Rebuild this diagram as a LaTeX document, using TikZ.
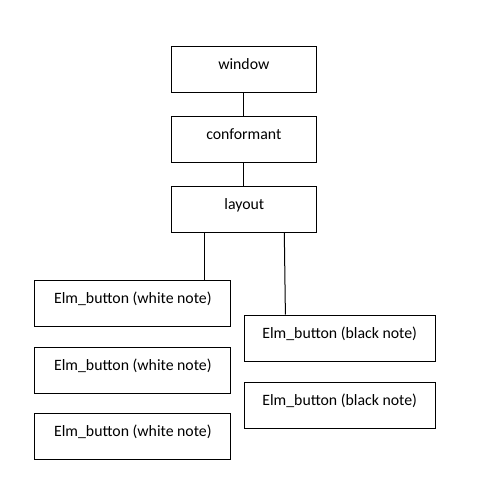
\documentclass[tikz,border=0pt]{standalone}
\usepackage{fontspec}
\setmainfont{Carlito}
\begin{document}
\begin{tikzpicture}[x=1pt,y=-1pt,
  box/.style={draw=black,line width=1pt,rectangle,inner sep=0pt,minimum height=46pt,
    text height=12pt,text depth=12pt,font=\fontsize{15.8pt}{18pt}\selectfont},
  topbox/.style={box,minimum width=145pt},
  wbox/.style={box,minimum width=196pt},
  bbox/.style={box,minimum width=191pt},
  conn/.style={draw=black,line width=1pt}]
\useasboundingbox[fill=white] (0,0) rectangle (500,500);
\node[topbox] (window) at (243.8,70) {window};
\node[topbox] (conformant) at (243.8,139.5) {conformant};
\node[topbox] (layout) at (244.3,209.5) {layout};
\node[wbox] (w1) at (132.9,303.2) {Elm\_button (white note)};
\node[wbox] (w2) at (132.9,370.3) {Elm\_button (white note)};
\node[wbox] (w3) at (132.9,436.5) {Elm\_button (white note)};
\node[bbox] (b1) at (339.7,338) {Elm\_button (black note)};
\node[bbox] (b2) at (339.7,405.5) {Elm\_button (black note)};
\draw[conn] (window.south) -- (conformant.north);
\draw[conn] (conformant.south) -- (conformant.south |- layout.north);
\coordinate (lw) at ([xshift=33.5pt]layout.south west);
\draw[conn] (lw) -- (lw |- w1.north);
\coordinate (lb) at ([xshift=113pt]layout.south west);
\coordinate (bt) at ([xshift=41.7pt]b1.north west);
\draw[conn] (lb) -- (bt);
\end{tikzpicture}
\end{document}
